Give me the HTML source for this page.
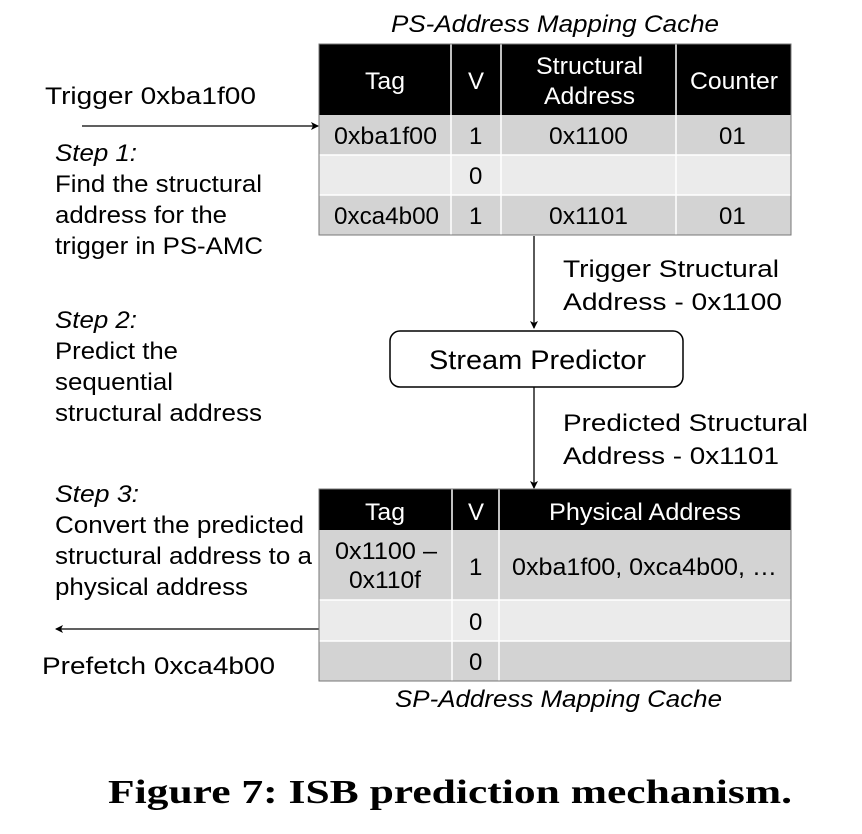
<!DOCTYPE html>
<html><head><meta charset="utf-8"><style>
body{margin:0;background:#fff;}
svg text{font-family:"Liberation Sans",Arial,sans-serif;}
</style></head><body>
<svg width="862" height="829" viewBox="0 0 862 829" xmlns="http://www.w3.org/2000/svg">
<defs><marker id="ah" markerWidth="8" markerHeight="8" refX="7" refY="4" orient="auto" markerUnits="userSpaceOnUse"><path d="M0,0 L8,4 L0,8 L2,4 Z" fill="#000"/></marker></defs>
<text x="391" y="32" font-size="24" font-style="italic" textLength="328" lengthAdjust="spacingAndGlyphs">PS-Address Mapping Cache</text>
<!-- top table -->
<rect x="319" y="44" width="472" height="71" fill="#000"/>
<rect x="319" y="115" width="472" height="40" fill="#d3d3d3"/>
<rect x="319" y="155" width="472" height="40" fill="#ebebeb"/>
<rect x="319" y="195" width="472" height="40" fill="#d3d3d3"/>
<g stroke="#fff" stroke-width="1.5">
<line x1="451" y1="44" x2="451" y2="235"/><line x1="501" y1="44" x2="501" y2="235"/><line x1="676" y1="44" x2="676" y2="235"/>
<line x1="319" y1="155" x2="791" y2="155"/><line x1="319" y1="195" x2="791" y2="195"/>
</g>
<rect x="319" y="44" width="472" height="191" fill="none" stroke="#777" stroke-width="1"/>
<g fill="#fff" font-size="24">
<text x="365" y="89" textLength="40" lengthAdjust="spacingAndGlyphs">Tag</text><text x="468" y="89">V</text>
<text x="536" y="74" textLength="107" lengthAdjust="spacingAndGlyphs">Structural</text><text x="544" y="104" textLength="91" lengthAdjust="spacingAndGlyphs">Address</text>
<text x="690" y="89" textLength="88" lengthAdjust="spacingAndGlyphs">Counter</text>
</g>
<g font-size="24">
<text x="334" y="144" textLength="103" lengthAdjust="spacingAndGlyphs">0xba1f00</text><text x="469" y="144">1</text><text x="549" y="144" textLength="79" lengthAdjust="spacingAndGlyphs">0x1100</text><text x="719" y="144">01</text>
<text x="469" y="184">0</text>
<text x="334" y="224" textLength="105" lengthAdjust="spacingAndGlyphs">0xca4b00</text><text x="469" y="224">1</text><text x="549" y="224" textLength="79" lengthAdjust="spacingAndGlyphs">0x1101</text><text x="719" y="224">01</text>
</g>
<!-- left text -->
<g font-size="24" lengthAdjust="spacingAndGlyphs">
<text x="45" y="104" textLength="211" lengthAdjust="spacingAndGlyphs">Trigger 0xba1f00</text>
<text x="55" y="161" font-style="italic" textLength="82" lengthAdjust="spacingAndGlyphs">Step 1:</text>
<text x="55" y="192" textLength="207" lengthAdjust="spacingAndGlyphs">Find the structural</text>
<text x="55" y="223" textLength="172" lengthAdjust="spacingAndGlyphs">address for the</text>
<text x="55" y="254" textLength="208" lengthAdjust="spacingAndGlyphs">trigger in PS-AMC</text>
<text x="55" y="328" font-style="italic" textLength="82" lengthAdjust="spacingAndGlyphs">Step 2:</text>
<text x="55" y="359" textLength="123" lengthAdjust="spacingAndGlyphs">Predict the</text>
<text x="55" y="390" textLength="118" lengthAdjust="spacingAndGlyphs">sequential</text>
<text x="55" y="421" textLength="207" lengthAdjust="spacingAndGlyphs">structural address</text>
<text x="55" y="502" font-style="italic" textLength="84" lengthAdjust="spacingAndGlyphs">Step 3:</text>
<text x="55" y="533" textLength="249" lengthAdjust="spacingAndGlyphs">Convert the predicted</text>
<text x="55" y="564" textLength="257" lengthAdjust="spacingAndGlyphs">structural address to a</text>
<text x="55" y="595" textLength="193" lengthAdjust="spacingAndGlyphs">physical address</text>
<text x="42" y="674" textLength="233" lengthAdjust="spacingAndGlyphs">Prefetch 0xca4b00</text>
<text x="563" y="277" textLength="216" lengthAdjust="spacingAndGlyphs">Trigger Structural</text>
<text x="563" y="310" textLength="219" lengthAdjust="spacingAndGlyphs">Address - 0x1100</text>
<text x="563" y="431" textLength="245" lengthAdjust="spacingAndGlyphs">Predicted Structural</text>
<text x="563" y="464" textLength="216" lengthAdjust="spacingAndGlyphs">Address - 0x1101</text>
</g>
<line x1="82" y1="126" x2="318" y2="126" stroke="#000" stroke-width="1.3" marker-end="url(#ah)"/>
<line x1="534" y1="236" x2="534" y2="328" stroke="#000" stroke-width="1.3" marker-end="url(#ah)"/>
<rect x="390" y="331" width="293" height="56" rx="10" fill="#fff" stroke="#000" stroke-width="1.5"/>
<text x="429" y="369" font-size="27" textLength="217" lengthAdjust="spacingAndGlyphs">Stream Predictor</text>
<line x1="534" y1="387" x2="534" y2="488" stroke="#000" stroke-width="1.3" marker-end="url(#ah)"/>
<line x1="319" y1="629" x2="56" y2="629" stroke="#000" stroke-width="1.3" marker-end="url(#ah)"/>
<!-- bottom table -->
<rect x="319" y="489" width="472" height="41" fill="#000"/>
<rect x="319" y="530" width="472" height="70" fill="#d3d3d3"/>
<rect x="319" y="600" width="472" height="41" fill="#ebebeb"/>
<rect x="319" y="641" width="472" height="40" fill="#d3d3d3"/>
<g stroke="#fff" stroke-width="1.5">
<line x1="452" y1="489" x2="452" y2="681"/><line x1="499" y1="489" x2="499" y2="681"/>
<line x1="319" y1="600" x2="791" y2="600"/><line x1="319" y1="641" x2="791" y2="641"/>
</g>
<rect x="319" y="489" width="472" height="192" fill="none" stroke="#777" stroke-width="1"/>
<g fill="#fff" font-size="24">
<text x="365" y="520" textLength="40" lengthAdjust="spacingAndGlyphs">Tag</text><text x="468" y="520">V</text><text x="549" y="520" textLength="192" lengthAdjust="spacingAndGlyphs">Physical Address</text>
</g>
<g font-size="24">
<text x="335" y="559" textLength="102" lengthAdjust="spacingAndGlyphs">0x1100 –</text><text x="349" y="588" textLength="72" lengthAdjust="spacingAndGlyphs">0x110f</text>
<text x="469" y="575">1</text><text x="512" y="575" textLength="265" lengthAdjust="spacingAndGlyphs">0xba1f00, 0xca4b00, …</text>
<text x="469" y="630">0</text><text x="469" y="670">0</text>
</g>
<text x="395" y="707" font-size="24" font-style="italic" textLength="327" lengthAdjust="spacingAndGlyphs">SP-Address Mapping Cache</text>
<text x="108" y="803" font-weight="bold" font-size="34" textLength="684" lengthAdjust="spacingAndGlyphs" style="font-family:'Liberation Serif',serif">Figure 7: ISB prediction mechanism.</text>
</svg>
</body></html>
